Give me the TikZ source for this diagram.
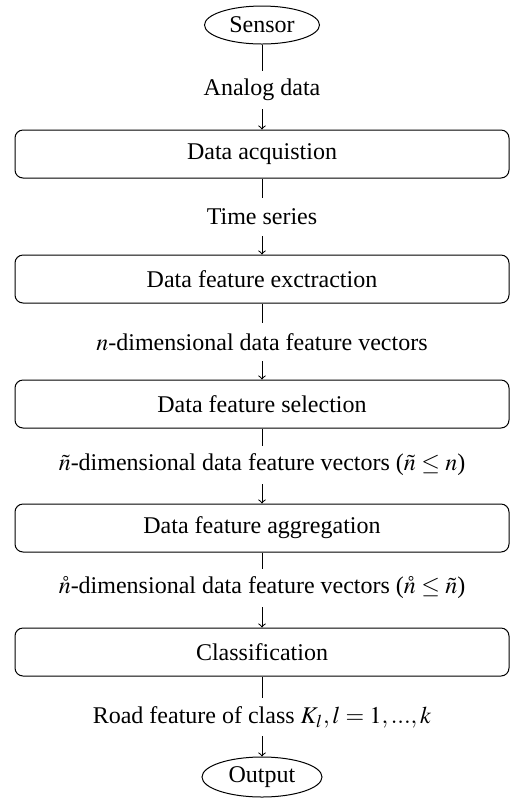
\documentclass[tikz,border=0pt]{standalone}
\usepackage{mathptmx}
\usepackage{fontspec}
\setmainfont{Liberation Serif}
\usetikzlibrary{shapes.geometric}
\begin{document}
\begin{tikzpicture}[x=1pt,y=1pt,
  every node/.style={font=\fontsize{12}{14.4}\selectfont},
  endpoint/.style={draw, ellipse, inner sep=0pt, line width=0.5pt},
  stepbox/.style={draw, rounded corners=4pt, minimum width=247pt, minimum height=24pt, inner sep=0pt, line width=0.5pt},
  flowlabel/.style={inner sep=0pt, minimum height=19pt},
  link/.style={line width=0.5pt},
  arrowlink/.style={line width=0.5pt, ->}]
\useasboundingbox (0,0) rectangle (256.5,-402.5);
\node[endpoint, minimum width=57.5pt, minimum height=19pt] (sensor) at (131,-12.5) {Sensor};
\node[flowlabel] (l1) at (131,-45) {Analog data};
\node[stepbox] (b1) at (131,-77) {Data acquistion};
\node[flowlabel] (l2) at (131,-108.5) {Time series};
\node[stepbox] (b2) at (131,-139.5) {Data feature exctraction};
\node[flowlabel] (l3) at (131,-171) {$n$-dimensional data feature vectors};
\node[stepbox] (b3) at (131,-202) {Data feature selection};
\node[flowlabel] (l4) at (131,-232.5) {$\tilde{n}$-dimensional data feature vectors ($\tilde{n}\leq n$)};
\node[stepbox] (b4) at (131,-264) {Data feature aggregation};
\node[flowlabel] (l5) at (131,-294) {$\mathring{n}$-dimensional data feature vectors ($\mathring{n}\leq \tilde{n}$)};
\node[stepbox] (b5) at (131,-326) {Classification};
\node[flowlabel] (l6) at (131,-358.5) {Road feature of class $K_l, l=1,...,k$};
\node[endpoint, minimum width=60pt, minimum height=20pt] (output) at (131,-388.5) {Output};
\draw[link] (sensor) -- (l1);
\draw[arrowlink] (l1) -- (b1);
\draw[link] (b1) -- (l2);
\draw[arrowlink] (l2) -- (b2);
\draw[link] (b2) -- (l3);
\draw[arrowlink] (l3) -- (b3);
\draw[link] (b3) -- (l4);
\draw[arrowlink] (l4) -- (b4);
\draw[link] (b4) -- (l5);
\draw[arrowlink] (l5) -- (b5);
\draw[link] (b5) -- (l6);
\draw[arrowlink] (l6) -- (output);
\end{tikzpicture}
\end{document}
